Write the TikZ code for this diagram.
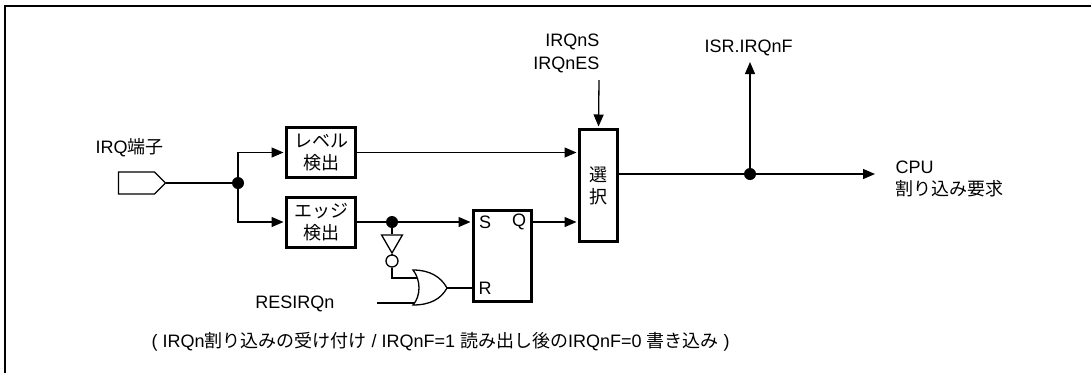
\documentclass[tikz,border=0pt]{standalone}
\usepackage{fontspec}
\setmainfont{Liberation Sans}
\newfontfamily\jfont{Noto Sans CJK JP}
\newcommand{\ja}[1]{{\jfont #1}}
\usetikzlibrary{arrows.meta,shapes.symbols,shapes.geometric}

\begin{document}
\begin{tikzpicture}[x=1pt,y=-1pt,
    wire/.style={line width=1.3pt},
    sig/.style={wire,-{Triangle[length=12pt,width=10pt]},shorten >=1.5pt},
    blk/.style={draw,line width=3pt,inner sep=0pt,align=center},
    dot/.style={circle,fill,inner sep=0pt,minimum size=12pt},
    every node/.style={font=\fontsize{18}{22}\selectfont}]
    \useasboundingbox (0,0) rectangle (1091,373);
    \draw[line width=2pt] (5,373) -- (5,6) -- (1091,6);

    % input side
    \node[draw,wire,signal,signal to=east,minimum width=47pt,minimum height=22pt,inner sep=0pt] (pin) at (136.5,183) {};
    \node[anchor=west] (pinlbl) at (92,148) {IRQ\ja{端子}};
    \node[dot] (j1) at (238,183) {};
    \node[blk,minimum width=69pt,minimum height=50pt] (lvl) at (321,152.5) {\ja{レベル}\\\ja{検出}};
    \node[blk,minimum width=69pt,minimum height=50pt] (edg) at (321,222) {\ja{エッジ}\\\ja{検出}};

    % latch and clear
    \node[dot] (j2) at (392,222) {};
    \node[draw,wire,regular polygon,regular polygon sides=3,shape border rotate=180,minimum size=24pt,inner sep=0pt] (inv) at (392,241) {};
    \node[draw,wire,circle,minimum size=12pt,inner sep=0pt] (bub) at (392,261) {};
    \node[blk,minimum width=58pt,minimum height=91pt] (sr) at (502.5,256) {};
    \node (s) at (485,222) {S};
    \node (q) at (519,222) {Q};
    \node (r) at (485,288) {R};
    \node[anchor=east] (res) at (338,304) {RESIRQn};
    \coordinate (ora) at (417,278);
    \coordinate (orb) at (414,303);
    \coordinate (orq) at (447,288);
    \coordinate (resin) at (377,303);
    \draw[wire] (413,270) .. controls (421,280) and (421,296) .. (413,305)
        .. controls (430,305) and (441,299) .. (orq)
        .. controls (441,277) and (430,270) .. cycle;

    % select and output
    \node[blk,minimum width=38pt,minimum height=112pt] (sel) at (598.5,185.5) {\ja{選}\\\ja{択}};
    \node[anchor=east,align=right,font=\fontsize{18}{23}\selectfont] (mode) at (603,53.5) {IRQnS\\IRQnES};
    \node (isr) at (748.5,48) {ISR.IRQnF};
    \node[dot] (j3) at (750,174) {};
    \node[anchor=west,align=left] (cpu) at (892,179) {CPU\\\ja{割り込み要求}};
    \coordinate (modein) at (599,80);
    \coordinate (isrout) at (750,62);
    \coordinate (cpuout) at (875,174);

    \node[anchor=west] (note) at (148,342) {( IRQn\ja{割り込みの受け付け} / IRQnF=1 \ja{読み出し後の}IRQnF=0 \ja{書き込み} )};

    \draw[wire] (pin) -- (j1);
    \draw[sig] (j1) |- (lvl.west);
    \draw[sig] (j1) |- (edg.west);
    \draw[wire] (edg) -- (j2);
    \draw[sig] (j2) -- (sr.west |- j2);
    \draw[wire] (j2) -- (inv.north);
    \draw[wire] (inv.south) -- (bub.north);
    \draw[wire] (bub.south) |- (ora);
    \draw[wire] (resin) -- (orb);
    \draw[wire] (orq) -- (sr.west |- orq);
    \draw[sig] (sr.east |- j2) -- (sel.west |- j2);
    \draw[sig] (lvl) -- (sel.west |- lvl);
    \draw[sig] (modein) -- (sel.north);
    \draw[wire] (sel.east |- j3) -- (j3);
    \draw[sig,shorten >=0pt] (j3) -- (cpuout);
    \draw[sig,shorten >=0pt] (j3) -- (isrout);
\end{tikzpicture}
\end{document}
